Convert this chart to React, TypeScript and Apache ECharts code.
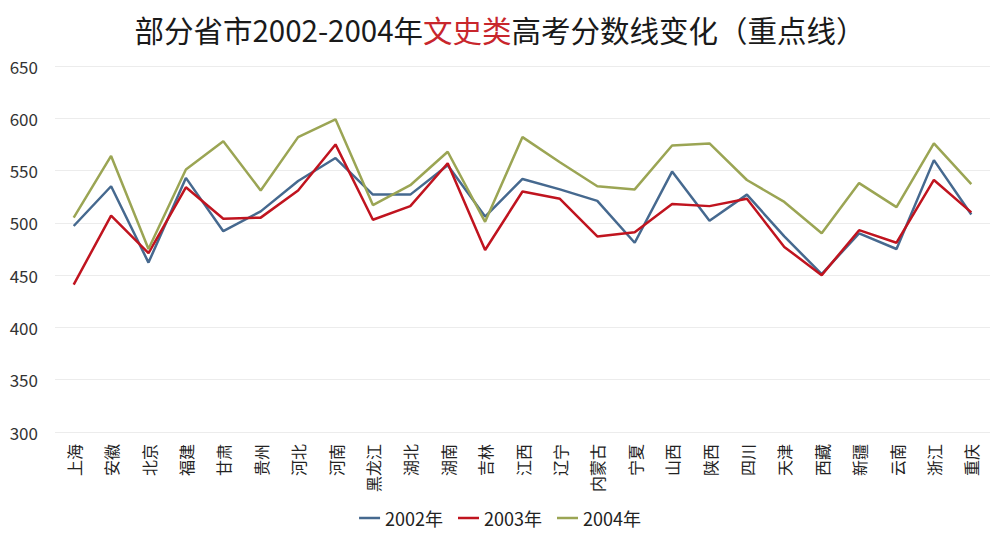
import React, { useEffect, useRef } from "react";
import * as echarts from "echarts";

const provinces = ["上海", "安徽", "北京", "福建", "甘肃", "贵州", "河北", "河南", "黑龙江", "湖北", "湖南", "吉林", "江西", "辽宁", "内蒙古", "宁夏", "山西", "陕西", "四川", "天津", "西藏", "新疆", "云南", "浙江", "重庆"];
const y2002 = [497, 535, 462, 543, 492, 511, 540, 562, 527, 527, 555, 506, 542, 532, 521, 481, 549, 502, 527, 487, 451, 490, 475, 560, 508];
const y2003 = [441, 507, 471, 534, 504, 505, 531, 575, 503, 516, 557, 474, 530, 523, 487, 491, 518, 516, 523, 477, 450, 493, 481, 541, 510];
const y2004 = [505, 564, 475, 551, 578, 531, 582, 599, 517, 536, 568, 501, 582, 558, 535, 532, 574, 576, 541, 520, 490, 538, 515, 576, 537];
const seriesNames = ["2002年", "2003年", "2004年"];
const colors = ["#46698f", "#c0141f", "#9ba554"];

export default function App() {
  const ref = useRef<HTMLDivElement>(null);
  useEffect(() => {
    if (!ref.current) return;
    const chart = echarts.init(ref.current, undefined, { renderer: "svg" });
    const data = [y2002, y2003, y2004];
    chart.setOption({
      animation: false,
      backgroundColor: "#ffffff",
      textStyle: { fontFamily: "Noto Sans CJK SC" },
      title: {
        text: "{a|部分省市2002-2004年}{r|文史类}{a|高考分数线变化（重点线）}",
        left: "center",
        top: 9,
        textStyle: {
          fontWeight: "normal",
          rich: {
            a: { fontSize: 29.5, color: "#1a1a1a", fontWeight: "normal", fontFamily: "Noto Sans CJK SC" },
            r: { fontSize: 29.5, color: "#c8262c", fontWeight: "normal", fontFamily: "Noto Sans CJK SC" },
          },
        },
      },
      legend: {
        data: seriesNames,
        bottom: 7,
        left: "center",
        icon: "rect",
        itemWidth: 21,
        itemHeight: 2.5,
        itemGap: 15,
        textStyle: { fontSize: 18, color: "#222" },
      },
      grid: { left: 55, right: 10, top: 66, bottom: 107 },
      xAxis: {
        type: "category",
        data: provinces,
        boundaryGap: true,
        axisLine: { show: false },
        axisTick: { show: false },
        axisLabel: { rotate: 90, fontSize: 16, color: "#222", margin: 12, interval: 0 },
      },
      yAxis: {
        type: "value",
        min: 300,
        max: 650,
        interval: 50,
        axisLine: { show: false },
        axisTick: { show: false },
        axisLabel: { fontSize: 17, color: "#333", margin: 17 },
        splitLine: { lineStyle: { color: "#ececec", width: 1 } },
      },
      series: data.map((d, i) => ({
        name: seriesNames[i],
        type: "line",
        data: d,
        showSymbol: false,
        symbol: "none",
        lineStyle: { color: colors[i], width: 2.5 },
        itemStyle: { color: colors[i] },
      })),
    });
    return () => chart.dispose();
  }, []);
  return <div ref={ref} style={{ width: 1000, height: 539, margin: -8 }} />;
}
